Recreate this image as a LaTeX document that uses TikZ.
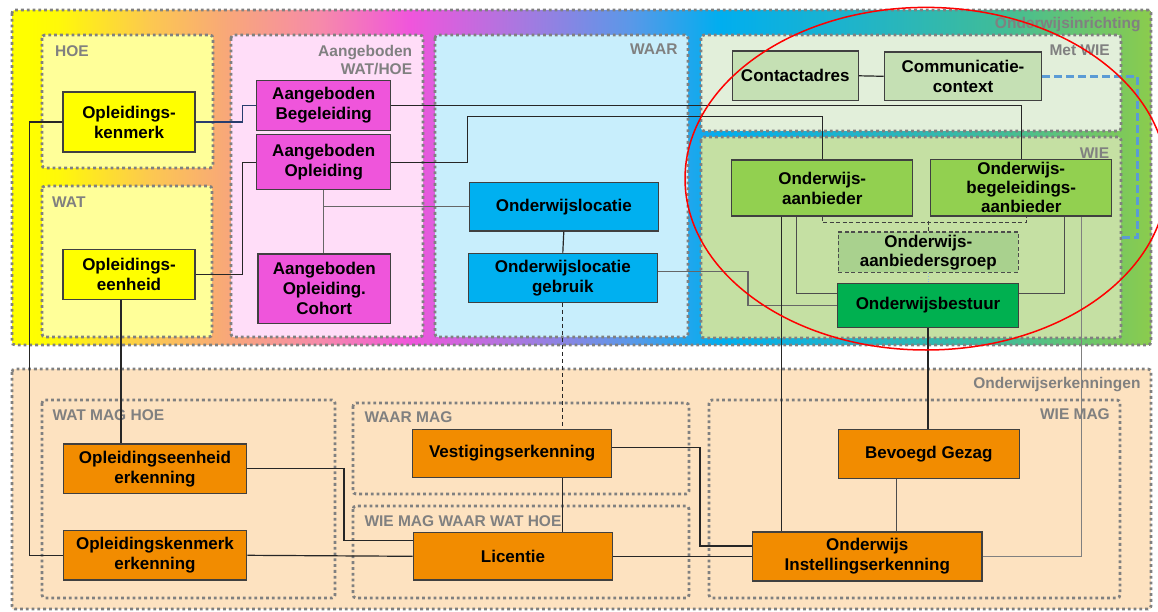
\documentclass[tikz,border=0pt]{standalone}
\usepackage{fontspec}
\setmainfont{Liberation Sans}
\definecolor{gA}{HTML}{FFFF00}
\definecolor{gB}{HTML}{FFF80A}
\definecolor{gC}{HTML}{FCC850}
\definecolor{gD}{HTML}{F8A878}
\definecolor{gE}{HTML}{F68AAA}
\definecolor{gF}{HTML}{F055DC}
\definecolor{gG}{HTML}{A878E0}
\definecolor{gH}{HTML}{5A98E8}
\definecolor{gI}{HTML}{00AEEF}
\definecolor{gJ}{HTML}{20B4C8}
\definecolor{gK}{HTML}{40BC98}
\definecolor{gL}{HTML}{8CCC4C}
\definecolor{peach}{HTML}{FDE2C0}
\definecolor{lyellow}{HTML}{FFFF99}
\definecolor{lpink}{HTML}{FFDDF8}
\definecolor{lcyan}{HTML}{C8EEFC}
\definecolor{lgreenA}{HTML}{E2EFDA}
\definecolor{lgreenB}{HTML}{C5E0A3}
\definecolor{nyellow}{HTML}{FFFF00}
\definecolor{nmagenta}{HTML}{EF55DB}
\definecolor{nblue}{HTML}{00B0F0}
\definecolor{nsage}{HTML}{C5E0B4}
\definecolor{ngreen}{HTML}{92D050}
\definecolor{ngroep}{HTML}{A9D18E}
\definecolor{ndgreen}{HTML}{00B050}
\definecolor{norange}{HTML}{F28C00}
\definecolor{bdash}{HTML}{5B9BD5}
\definecolor{navy}{HTML}{283C6E}
\begin{document}
\begin{tikzpicture}[x=1pt,y=-1pt,
  grp/.style={draw=black!50, line width=2.8pt, dash pattern=on 2.8pt off 3pt, rounded corners=3pt},
  box/.style={draw=black!75, line width=1.3pt, align=center, inner sep=0pt, font=\bfseries\fontsize{17}{20}\selectfont},
  lbl/.style={text=black!50, inner sep=0pt, font=\bfseries\fontsize{15.5}{18}\selectfont},
  conn/.style={draw=black!85, line width=1.2pt},
  gconn/.style={draw=black!60, line width=1.2pt},
  ]
\useasboundingbox (0,0) rectangle (1158,612);
\fill[white] (0,0) rectangle (1158,612);

% ---------- bottom outer box ----------
\fill[peach] (12,369) rectangle (1151,609);
\draw[grp] (12,369) rectangle (1151,609);

% ---------- top outer box with gradient ----------
\begin{scope}
  \clip[rounded corners=3pt] (12,10) rectangle (1151,345);
  \fill[gA] (11,10) rectangle (30.5,345);
  \fill[left color=gA, right color=gB] (30,10) rectangle (60.5,345);
  \fill[left color=gB, right color=gC] (60,10) rectangle (150.5,345);
  \fill[left color=gC, right color=gD] (150,10) rectangle (225.5,345);
  \fill[left color=gD, right color=gE] (225,10) rectangle (320.5,345);
  \fill[left color=gE, right color=gF] (320,10) rectangle (410.5,345);
  \fill[left color=gF, right color=gG] (410,10) rectangle (520.5,345);
  \fill[left color=gG, right color=gH] (520,10) rectangle (630.5,345);
  \fill[left color=gH, right color=gI] (630,10) rectangle (720.5,345);
  \fill[left color=gI, right color=gJ] (720,10) rectangle (860.5,345);
  \fill[left color=gJ, right color=gK] (860,10) rectangle (1000.5,345);
  \fill[left color=gK, right color=gL] (1000,10) rectangle (1152,345);
\end{scope}
\draw[grp] (12,10) rectangle (1151,345);

% ---------- inner groups (top) ----------
\draw[grp, fill=lyellow] (42,35) rectangle (213,168);
\draw[grp, fill=lyellow] (42,186) rectangle (212,337);
\draw[grp, fill=lpink] (231,35) rectangle (423,337);
\draw[grp, fill=lcyan] (435,35) rectangle (688,337);
\draw[grp, fill=lgreenA] (701,35) rectangle (1121,131);
\draw[grp, fill=lgreenB] (701,137) rectangle (1121,338);

% ---------- inner groups (bottom) ----------
\draw[grp] (42,400) rectangle (335,598);
\draw[grp] (353,403) rectangle (689,494);
\draw[grp] (353,506) rectangle (689,598);
\draw[grp] (709,400) rectangle (1120,598);

% ---------- group labels ----------
\node[lbl, anchor=base east] (lOI) at (1140.7,28.9) {Onderwijsinrichting};
\node[lbl, anchor=base west] (lHOE) at (55,56.3) {HOE};
\node[lbl, anchor=base west] (lWAT) at (52,207.3) {WAT};
\node[lbl, anchor=base east] (lAA) at (412.3,56.3) {Aangeboden};
\node[lbl, anchor=base east] (lAB) at (412.3,75) {WAT/HOE};
\node[lbl, anchor=base east] (lWAAR) at (677.7,54.6) {WAAR};
\node[lbl, anchor=base east] (lMW) at (1110,55.6) {Met WIE};
\node[lbl, anchor=base east] (lWIE) at (1109.3,158.9) {WIE};
\node[lbl, anchor=base east] (lOE) at (1140.7,388.9) {Onderwijserkenningen};
\node[lbl, anchor=base west] (lWMH) at (52.3,420.6) {WAT MAG HOE};
\node[lbl, anchor=base west] (lWM) at (364.3,422.3) {WAAR MAG};
\node[lbl, anchor=base west] (lWMW) at (364.3,526.6) {WIE MAG WAAR WAT HOE};
\node[lbl, anchor=base east] (lWIEM) at (1110,419.9) {WIE MAG};

% ---------- nodes (top) ----------
\node[box, fill=nyellow, minimum width=132pt, minimum height=60pt] (ok) at (129,122) {Opleidings-\\kenmerk};
\node[box, fill=nyellow, minimum width=132pt, minimum height=50pt] (oe) at (129,274.3) {Opleidings-\\eenheid};
\node[box, fill=nmagenta, minimum width=134pt, minimum height=50pt] (ab) at (323.7,105.5) {Aangeboden\\Begeleiding};
\node[box, fill=nmagenta, minimum width=134pt, minimum height=55pt] (ao) at (323.7,162.3) {Aangeboden\\Opleiding};
\node[box, fill=nmagenta, minimum width=132.7pt, minimum height=69.3pt] (aoc) at (324.3,288.7) {Aangeboden\\Opleiding.\\Cohort};
\node[box, fill=nblue, minimum width=189pt, minimum height=48.3pt] (ol) at (563.8,206.8) {Onderwijslocatie};
\node[box, fill=nblue, minimum width=189pt, minimum height=49pt] (olg) at (562.8,277.8) {Onderwijslocatie\\gebruik};
\node[box, fill=nsage, minimum width=126pt, minimum height=49.7pt] (ca) at (795.3,75.8) {Contactadres};
\node[box, fill=nsage, minimum width=157.3pt, minimum height=48.7pt] (cc) at (963,76.3) {Communicatie-\\context};
\node[box, fill=ngreen, minimum width=181pt, minimum height=56pt] (oa) at (822.2,188) {Onderwijs-\\aanbieder};
\node[box, fill=ngreen, minimum width=181pt, minimum height=56.7pt, font=\bfseries\fontsize{17}{19}\selectfont] (oba) at (1021.2,187.7) {Onderwijs-\\begeleidings-\\aanbieder};
\node[box, fill=ngroep, dashed, dash pattern=on 4pt off 2.5pt, draw=black!70, minimum width=180pt, minimum height=40.3pt, font=\bfseries\fontsize{17}{19}\selectfont] (oag) at (928.3,252.2) {Onderwijs-\\aanbiedersgroep};
\node[box, fill=ndgreen, minimum width=180.7pt, minimum height=44.3pt] (obs) at (928,305.5) {Onderwijsbestuur};

% ---------- nodes (bottom) ----------
\node[box, fill=norange, minimum width=183.3pt, minimum height=49.3pt] (oee) at (155,468.7) {Opleidingseenheid\\erkenning};
\node[box, fill=norange, minimum width=183.3pt, minimum height=49.3pt] (oke) at (155,555.3) {Opleidingskenmerk\\erkenning};
\node[box, fill=norange, minimum width=199pt, minimum height=48pt] (ve) at (512.2,453.3) {Vestigingserkenning};
\node[box, fill=norange, minimum width=199.3pt, minimum height=47.3pt] (lic) at (513,556.3) {Licentie};
\node[box, fill=norange, minimum width=181pt, minimum height=49pt] (bg) at (928.8,453.8) {Bevoegd Gezag};
\node[box, fill=norange, minimum width=229.3pt, minimum height=49pt] (oie) at (867.3,556.5) {Onderwijs\\Instellingserkenning};

% ---------- connectors ----------
\draw[conn] (ok.west) -- ++(-33,0) |- (oke.west);
\draw[conn, draw=navy] (ok.east) -- ++(47,0) |- (ab.west);
\draw[conn] (oe.east) -- ++(47,0) |- (ao.west);
\draw[conn] ([xshift=-8pt]oe.south) -- ([xshift=-8pt]oe.south |- oee.north);
\draw[conn] (ab.east) -| (oba.north);
\draw[conn] (ao.east) -- ++(76,0) |- ([yshift=43pt]oa.north) -- (oa.north);
\draw[gconn] (ao.south) -- (ao.south |- aoc.north);
\draw[gconn] (ao.south |- ol.west) -- (ol.west);
\draw[conn] (ol.south) -- (olg.north);
\draw[gconn] ([yshift=6pt]olg.east) -- ++(90,0) |- (obs.west);
\draw[conn, dash pattern=on 4pt off 3pt, line width=1pt] (olg.south) -- (olg.south |- ve.north);
\draw[conn] ([xshift=-41pt]oa.south) -- ([xshift=-41pt]oa.south |- oie.north);
\draw[gconn, draw=black!70] ([xshift=-26pt]oa.south) |- ([yshift=12pt]obs.west);
\draw[gconn, draw=black!70] ([xshift=43pt]oba.south) |- ([yshift=12pt]obs.east);
\draw[gconn, draw=black!50] ([xshift=60pt]oba.south) |- (oie.east);
\draw[draw=black!75, line width=1pt, dash pattern=on 4pt off 2.5pt] (oa.south) -- ++(0,5.5) -| ([xshift=5pt]oba.south);
\draw[draw=black!75, line width=1pt, dash pattern=on 4pt off 2.5pt] (oag.north) -- ++(0,-10.5);
\draw[draw=bdash!70, line width=0.8pt, dotted] (oag.south) -- (oag.south |- obs.north);
\draw[conn] (obs.south) -- (obs.south |- bg.north);
\draw[gconn, draw=black!70] ([xshift=-32pt]bg.south) -- ([xshift=-32pt]bg.south |- oie.north);
\coordinate (bend) at (1121,238);
\draw[draw=bdash, line width=3pt, dash pattern=on 8pt off 4pt] (cc.east) -- ++(95,0) |- (bend);
\draw[conn] (ca.east) -- (cc.west);
\draw[conn] (oee.east) -- ++(96.6,0) |- ([yshift=15.6pt]lic.west);
\draw[conn] (oke.east) -- (lic.west);
\draw[conn] ([xshift=50pt]ve.south) -- ([xshift=50pt]ve.south |- lic.north);
\draw[conn] ([yshift=6pt]ve.east) -- ++(87.6,0) |- ([yshift=10.5pt]oie.west);
\draw[conn] (lic.east) -- (lic.east -| oie.west);

% ---------- red ellipse ----------
\draw[red, line width=1.5pt] (926,178.7) ellipse [x radius=241, y radius=171.3];
\end{tikzpicture}
\end{document}
